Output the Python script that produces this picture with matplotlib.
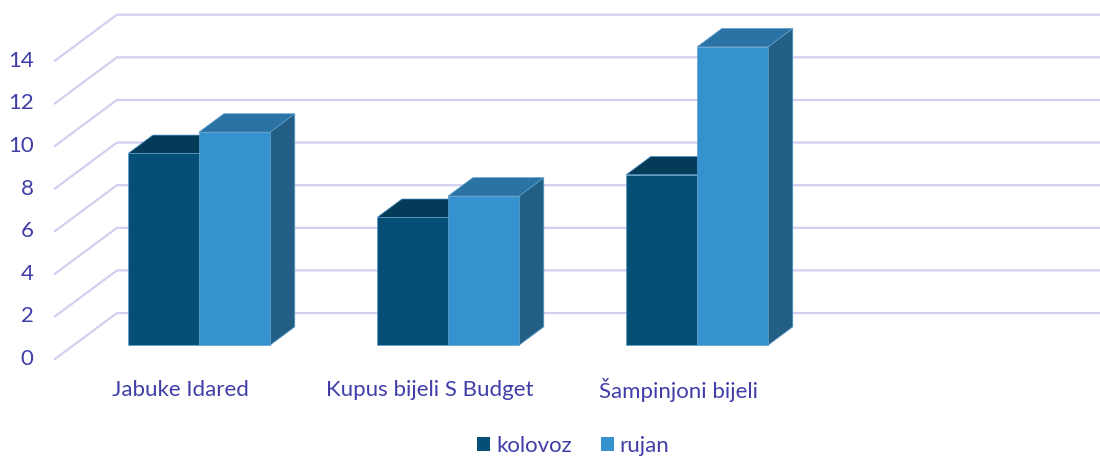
import matplotlib
matplotlib.use('Agg')
from matplotlib import pyplot as plt
from matplotlib.patches import Polygon, Patch

categories = ['Jabuke Idared', 'Kupus bijeli S Budget', 'Šampinjoni bijeli']
series_names = ['kolovoz', 'rujan']
kolovoz = [9, 6, 8]
rujan = [10, 7, 14]
y_ticks = [0, 2, 4, 6, 8, 10, 12, 14]

TEXT = '#3f3da8'
GRID = '#d2cff0'
FRONT = ['#054f76', '#3592cf']
TOP = ['#033b59', '#2b73a4']
SIDE = ['#043f5f', '#235f85']
EDGE = '#5d9fcc'

# fake 3d: depth offset of the whole floor, in data units
DX = 0.249
DY = 2.16
BAR_W = 0.285
D_FRONT = 0.30   # bar front face depth (fraction of floor)
D_BACK = 0.70
WALL_X = -0.504
FS = 16

plt.rcParams['font.family'] = ['Lato', 'DejaVu Sans']

fig = plt.figure(figsize=(11, 4.59), dpi=100)
ax = fig.add_axes([0, 0, 1, 1])
ax.set_xlim(-0.7245, 3.693)
ax.set_ylim(-4.69, 16.85)
ax.axis('off')

# walls gridlines
for v in y_ticks:
    ax.plot([WALL_X, WALL_X + DX, 5], [v, v + DY, v + DY], color=GRID, lw=1.6,
            solid_joinstyle='miter', zorder=1)
    ax.text(WALL_X - 0.085, v, str(v), ha='right', va='center',
            fontsize=FS, color=TEXT)


def bar3d(x0, val, s):
    d = D_BACK - D_FRONT
    yb = D_FRONT * DY
    xl = x0 + D_FRONT * DX
    yt = yb + val
    side = [(xl + BAR_W, yb), (xl + BAR_W + d * DX, yb + d * DY),
            (xl + BAR_W + d * DX, yt + d * DY), (xl + BAR_W, yt)]
    top = [(xl, yt), (xl + BAR_W, yt), (xl + BAR_W + d * DX, yt + d * DY),
           (xl + d * DX, yt + d * DY)]
    front = [(xl, yb), (xl + BAR_W, yb), (xl + BAR_W, yt), (xl, yt)]
    for pts, col in [(side, SIDE[s]), (top, TOP[s]), (front, FRONT[s])]:
        ax.add_patch(Polygon(pts, closed=True, facecolor=col, edgecolor=EDGE,
                             lw=0.5, joinstyle='miter', zorder=3))


for i in range(len(categories)):
    for s, vals in enumerate([kolovoz, rujan]):
        bar3d(i - BAR_W + s * BAR_W, vals[i], s)
    ax.text(i, -1.46, categories[i], ha='center', va='center',
            fontsize=FS, color=TEXT)

handles = [Patch(facecolor=FRONT[k], label=series_names[k]) for k in range(2)]
leg = fig.legend(handles=handles, loc='center', bbox_to_anchor=(0.521, 0.028),
                 ncol=2, frameon=False, fontsize=FS, handlelength=0.6,
                 handleheight=0.6, handletextpad=0.25, columnspacing=1.3,
                 borderpad=0)
for t in leg.get_texts():
    t.set_color(TEXT)

fig.savefig('out.png', dpi=100)
